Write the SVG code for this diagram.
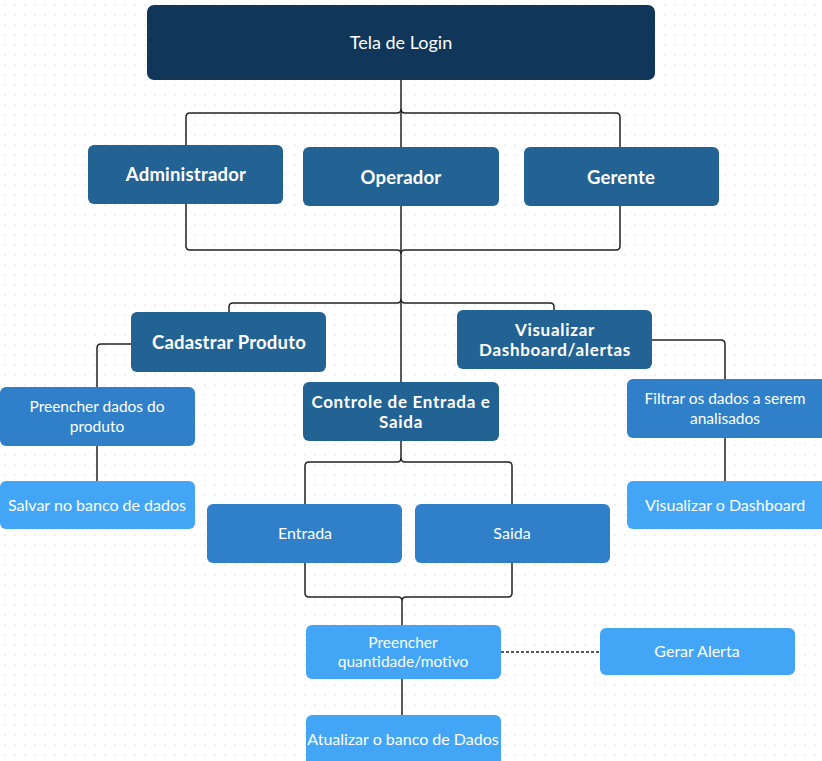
<svg xmlns="http://www.w3.org/2000/svg" width="822" height="761" viewBox="0 0 822 761">
<defs>
<pattern id="dots" width="10" height="10" patternUnits="userSpaceOnUse">
<circle cx="5" cy="5" r="0.8" fill="#dcdcdc"/>
</pattern>
</defs>
<style>
.dk{fill:#10375a}
.md{fill:#236394}
.bl{fill:#2f80c9}
.lt{fill:#42a5f5}
text{font-family:"Lato","Liberation Sans",sans-serif;fill:#fff;text-anchor:middle}
.b{font-weight:700;font-size:18.5px;letter-spacing:0.2px}
.b2{font-weight:700;font-size:17px;letter-spacing:0.7px}
.r{font-size:16px}
.r2{font-size:15.5px}
.c{fill:none;stroke:#222;stroke-width:1.5}
</style>
<rect width="822" height="761" fill="#fff"/>
<rect width="822" height="761" fill="url(#dots)"/>
<g id="connectors">
<path class="c" d="M401 80V250"/>
<path class="c" d="M186 145V117Q186 113 190 113H397Q401 113 401 109 Q401 113 405 113H616Q620 113 620 117V147"/>
<path class="c" d="M186 204V246Q186 250 190 250H397Q401 250 401 254Q401 250 405 250H616Q620 250 620 246V206"/>
<path class="c" d="M401 250V382"/>
<path class="c" d="M229 312V307Q229 303 233 303H397Q401 303 401 299Q401 303 405 303H550Q554 303 554 307V310"/>
<path class="c" d="M131 344H101Q97 344 97 348V387"/>
<path class="c" d="M97 446V481"/>
<path class="c" d="M652 340H721Q725 340 725 344V379"/>
<path class="c" d="M725 438V481"/>
<path class="c" d="M401 441V458Q401 462 397 462H309Q305 462 305 466V504"/>
<path class="c" d="M401 458Q401 462 405 462H508Q512 462 512 466V504"/>
<path class="c" d="M305 563V593Q305 597 309 597H398Q402 597 402 601Q402 597 406 597H508Q512 597 512 593V563"/>
<path class="c" d="M402 601V625"/>
<path class="c" d="M402 679V715"/>
<path class="c" d="M501 652H600" stroke-dasharray="3 2" stroke-width="1.2"/>
</g>
<g id="tela-login"><rect class="dk" x="147" y="5" width="508" height="75" rx="7"/><text x="401" y="49" style="font-size:18px">Tela de Login</text></g>
<g id="administrador"><rect class="md" x="88" y="145" width="195" height="59" rx="6"/><text class="b" x="186" y="181">Administrador</text></g>
<g id="operador"><rect class="md" x="303" y="147" width="196" height="59" rx="6"/><text class="b" x="401" y="184">Operador</text></g>
<g id="gerente"><rect class="md" x="524" y="147" width="195" height="59" rx="6"/><text class="b" x="621" y="184">Gerente</text></g>
<g id="cadastrar"><rect class="md" x="131" y="312" width="195" height="60" rx="6"/><text class="b" x="229" y="349">Cadastrar Produto</text></g>
<g id="visualizar-dash"><rect class="md" x="457" y="310" width="195" height="59" rx="6"/><text class="b2" x="555" y="336">Visualizar</text><text class="b2" x="555" y="356">Dashboard/alertas</text></g>
<g id="controle"><rect class="md" x="303" y="382" width="196" height="59" rx="6"/><text class="b2" x="401" y="408">Controle de Entrada e</text><text class="b2" x="401" y="428">Saida</text></g>
<g id="preencher-dados"><rect class="bl" x="0" y="387" width="195" height="59" rx="6"/><text class="r2" x="97" y="412">Preencher dados do</text><text class="r2" x="97" y="432">produto</text></g>
<g id="salvar"><rect class="lt" x="0" y="481" width="195" height="48" rx="6"/><text class="r" x="97" y="511">Salvar no banco de dados</text></g>
<g id="filtrar"><rect class="bl" x="627" y="379" width="200" height="59" rx="6"/><text class="r2" x="725" y="404">Filtrar os dados a serem</text><text class="r2" x="725" y="424">analisados</text></g>
<g id="visualizar-o"><rect class="lt" x="627" y="481" width="200" height="48" rx="6"/><text class="r" x="725" y="511">Visualizar o Dashboard</text></g>
<g id="entrada"><rect class="bl" x="207" y="504" width="195" height="59" rx="6"/><text class="r" x="305" y="539">Entrada</text></g>
<g id="saida"><rect class="bl" x="415" y="504" width="195" height="59" rx="6"/><text class="r" x="512" y="539">Saida</text></g>
<g id="preencher-qtd"><rect class="lt" x="306" y="625" width="195" height="54" rx="6"/><text class="r2" x="403" y="648">Preencher</text><text class="r2" x="403" y="667">quantidade/motivo</text></g>
<g id="gerar-alerta"><rect class="lt" x="600" y="628" width="195" height="47" rx="6"/><text class="r" x="697" y="657">Gerar Alerta</text></g>
<g id="atualizar"><rect class="lt" x="306" y="715" width="195" height="56" rx="6"/><text class="r" x="403" y="745">Atualizar o banco de Dados</text></g>
</svg>
